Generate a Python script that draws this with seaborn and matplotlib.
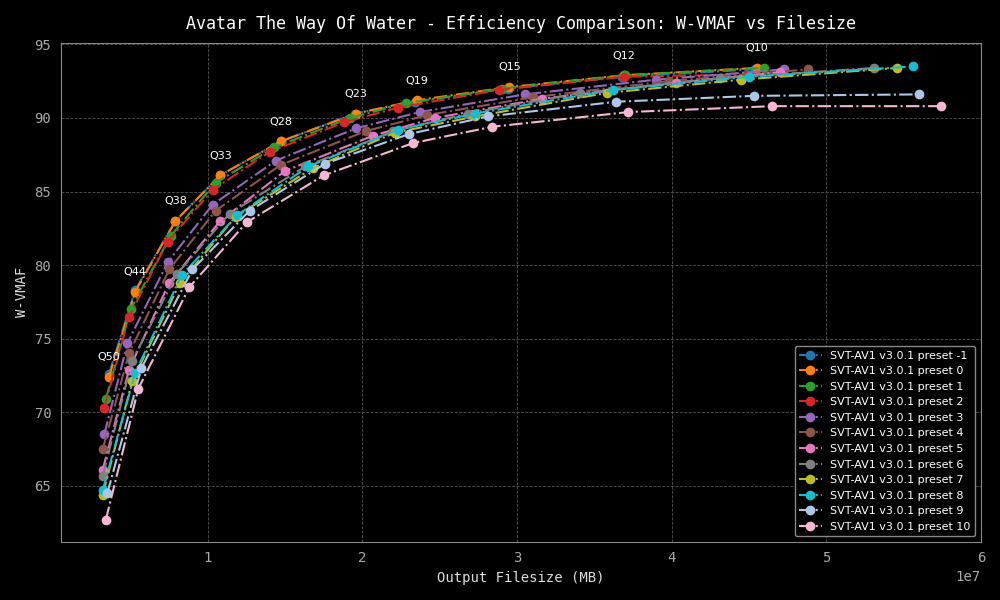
import matplotlib
matplotlib.use("Agg")
import matplotlib.pyplot as plt
import seaborn as sns
import pandas as pd

q_labels = ["Q50", "Q44", "Q38", "Q33", "Q28", "Q23", "Q19", "Q15", "Q12", "Q10"]
presets = [-1, 0, 1, 2, 3, 4, 5, 6, 7, 8, 9, 10]

size_m1 = [0.36e7, 0.53e7, 0.79e7, 1.08e7, 1.47e7, 1.95e7, 2.34e7, 2.94e7, 3.68e7, 4.54e7]
vmaf_m1 = [72.6, 78.3, 83.0, 86.1, 88.4, 90.3, 91.1, 92.0, 92.8, 93.3]
size_0 = [0.36e7, 0.53e7, 0.79e7, 1.08e7, 1.47e7, 1.96e7, 2.35e7, 2.95e7, 3.69e7, 4.55e7]
vmaf_0 = [72.4, 78.2, 83.0, 86.1, 88.4, 90.3, 91.2, 92.1, 92.9, 93.4]
size_1 = [0.34e7, 0.50e7, 0.76e7, 1.05e7, 1.43e7, 1.92e7, 2.28e7, 2.90e7, 3.70e7, 4.60e7]
vmaf_1 = [70.9, 77.0, 82.0, 85.6, 88.0, 90.0, 91.0, 92.0, 92.9, 93.4]
size_2 = [0.33e7, 0.49e7, 0.74e7, 1.03e7, 1.40e7, 1.88e7, 2.23e7, 2.88e7, 3.69e7, 4.48e7]
vmaf_2 = [70.3, 76.5, 81.6, 85.1, 87.7, 89.7, 90.7, 91.9, 92.8, 92.95]
size_3 = [0.33e7, 0.48e7, 0.74e7, 1.03e7, 1.44e7, 1.96e7, 2.37e7, 3.05e7, 3.90e7, 4.73e7]
vmaf_3 = [68.5, 74.7, 80.2, 84.1, 87.1, 89.3, 90.4, 91.6, 92.6, 93.3]
size_4 = [0.32e7, 0.49e7, 0.75e7, 1.05e7, 1.47e7, 2.02e7, 2.42e7, 3.10e7, 3.98e7, 4.88e7]
vmaf_4 = [67.5, 74.0, 79.7, 83.7, 86.8, 89.1, 90.2, 91.4, 92.5, 93.3]
size_5 = [0.32e7, 0.49e7, 0.75e7, 1.08e7, 1.50e7, 2.07e7, 2.47e7, 3.16e7, 4.03e7, 4.70e7]
vmaf_5 = [66.1, 72.9, 78.8, 83.0, 86.4, 88.8, 90.0, 91.3, 92.4, 93.1]
size_6 = [0.32e7, 0.51e7, 0.80e7, 1.14e7, 1.63e7, 2.20e7, 2.68e7, 3.41e7, 4.31e7, 5.31e7]
vmaf_6 = [65.7, 73.5, 79.4, 83.5, 86.7, 89.1, 90.3, 91.7, 92.7, 93.4]
size_7 = [0.32e7, 0.51e7, 0.82e7, 1.18e7, 1.68e7, 2.21e7, 2.73e7, 3.58e7, 4.45e7, 5.46e7]
vmaf_7 = [64.4, 72.1, 78.8, 83.3, 86.6, 89.0, 90.1, 91.7, 92.6, 93.4]
size_8 = [0.32e7, 0.53e7, 0.83e7, 1.19e7, 1.65e7, 2.23e7, 2.73e7, 3.62e7, 4.50e7, 5.56e7]
vmaf_8 = [64.7, 72.7, 79.3, 83.4, 86.7, 89.2, 90.3, 91.9, 92.8, 93.5]
size_9 = [0.35e7, 0.57e7, 0.90e7, 1.27e7, 1.76e7, 2.30e7, 2.81e7, 3.64e7, 4.53e7, 5.60e7]
vmaf_9 = [64.5, 73.0, 79.7, 83.7, 86.9, 88.9, 90.1, 91.1, 91.5, 91.6]
size_10 = [0.34e7, 0.55e7, 0.88e7, 1.25e7, 1.75e7, 2.33e7, 2.84e7, 3.72e7, 4.65e7, 5.74e7]
vmaf_10 = [62.7, 71.6, 78.5, 82.9, 86.1, 88.3, 89.4, 90.4, 90.8, 90.8]

sizes = [size_m1, size_0, size_1, size_2, size_3, size_4, size_5, size_6, size_7, size_8, size_9, size_10]
vmafs = [vmaf_m1, vmaf_0, vmaf_1, vmaf_2, vmaf_3, vmaf_4, vmaf_5, vmaf_6, vmaf_7, vmaf_8, vmaf_9, vmaf_10]

names = [f"SVT-AV1 v3.0.1 preset {p}" for p in presets]
rows = []
for name, s, v in zip(names, sizes, vmafs):
    for i, (a, b) in enumerate(zip(s, v)):
        rows.append({"preset": name, "size": a, "vmaf": b, "order": i})
df = pd.DataFrame(rows)

palette = list(sns.color_palette("tab10")) + ["#aec7e8", "#f7b6d2"]

plt.style.use("dark_background")
sns.set_style("dark", {"axes.facecolor": "black", "figure.facecolor": "black"})
plt.rcParams["font.family"] = ["DejaVu Sans Mono", "DejaVu Sans"]

fig, ax = plt.subplots(figsize=(10, 6), dpi=100)
fig.patch.set_facecolor("black")
ax.set_facecolor("black")
sns.lineplot(data=df, x="size", y="vmaf", hue="preset", hue_order=names, palette=palette,
             sort=False, estimator=None, units="preset", marker="o", markersize=7,
             markeredgewidth=0, linewidth=1.5, ax=ax)
for line in ax.get_lines():
    line.set_linestyle("-.")

for q, x, y in zip(q_labels, size_0, vmaf_0):
    ax.annotate(q, (x, y), xytext=(0, 12), textcoords="offset points", ha="center",
                color="white", fontsize=8, family="DejaVu Sans")

ax.set_xlim(0.05e7, 6.0e7)
ax.set_ylim(61.2, 95.1)
ax.set_xticks([1e7, 2e7, 3e7, 4e7, 5e7, 6e7])
ax.grid(True, color="#555555", linestyle="--", linewidth=0.6)
for sp in ax.spines.values():
    sp.set_color("#888888")
ax.tick_params(colors="#aaaaaa", labelsize=10)
ax.set_xlabel("Output Filesize (MB)", color="#dddddd", fontsize=10)
ax.set_ylabel("W-VMAF", color="#dddddd", fontsize=10)
ax.set_title("Avatar The Way Of Water - Efficiency Comparison: W-VMAF vs Filesize",
             color="white", fontsize=12, pad=10)
ax.xaxis.get_offset_text().set_color("#aaaaaa")
leg = ax.legend(loc="lower right", fontsize=8, facecolor="black", edgecolor="#888888",
                framealpha=1, title=None)
for t in leg.get_texts():
    t.set_color("white")
    t.set_family("DejaVu Sans")
for h in leg.get_lines():
    h.set_linestyle("-.")
    h.set_marker("o")
plt.tight_layout()
fig.savefig("out.png", dpi=100, facecolor="black")
